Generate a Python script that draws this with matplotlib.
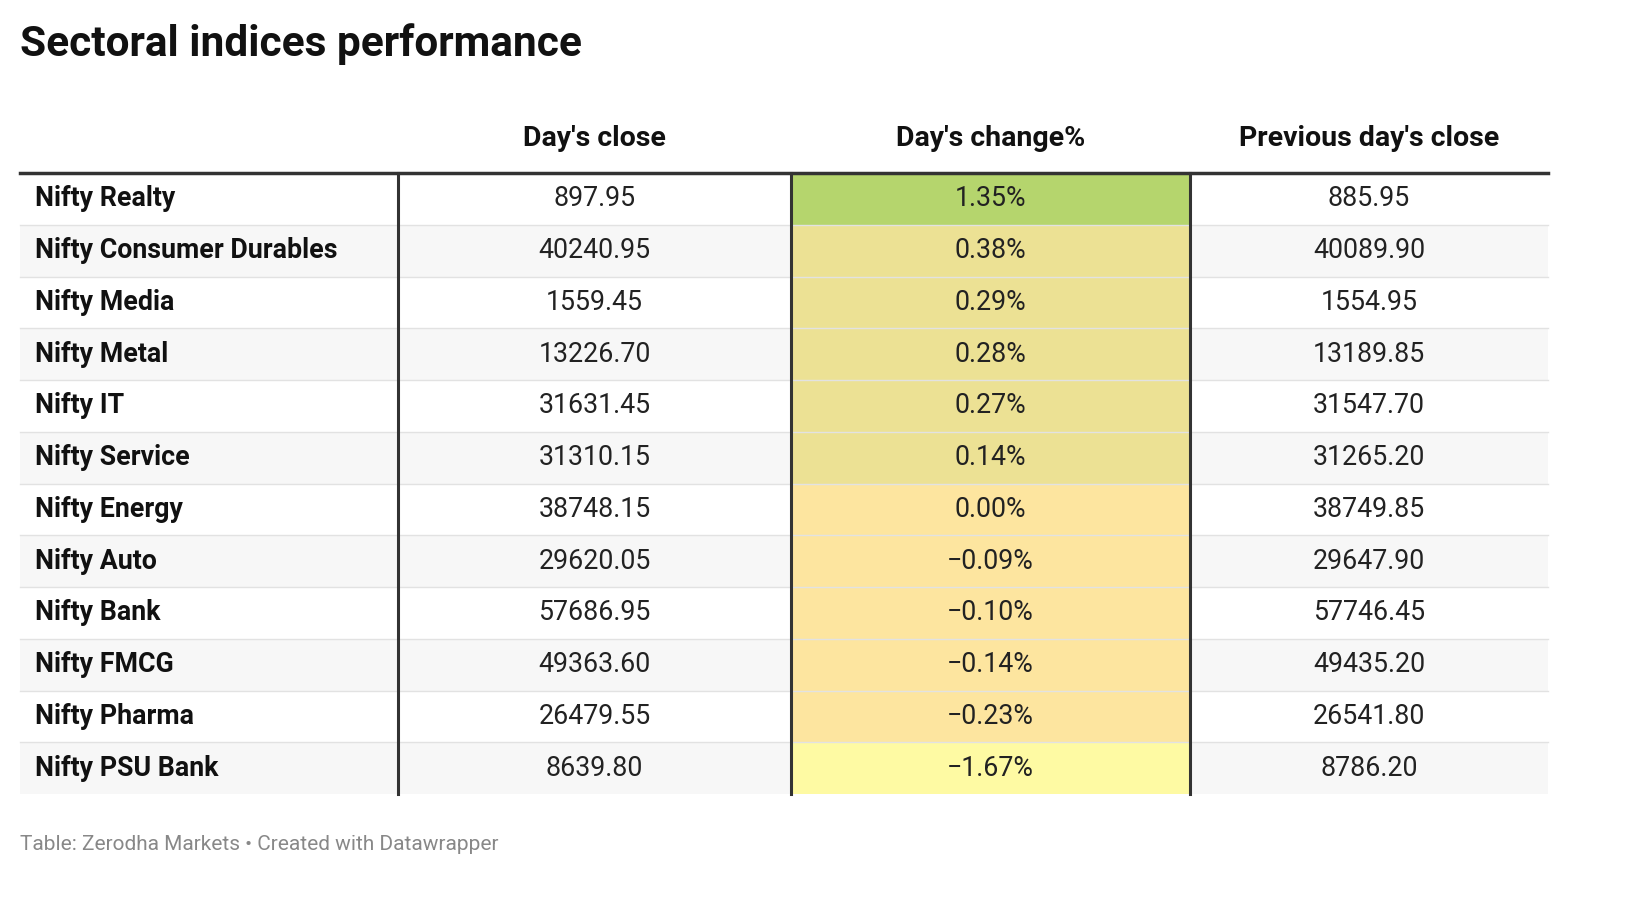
import matplotlib.pyplot as plt
from matplotlib.patches import Rectangle

sectors = ["Nifty Realty", "Nifty Consumer Durables", "Nifty Media", "Nifty Metal",
           "Nifty IT", "Nifty Service", "Nifty Energy", "Nifty Auto", "Nifty Bank",
           "Nifty FMCG", "Nifty Pharma", "Nifty PSU Bank"]
day_close = ["897.95", "40240.95", "1559.45", "13226.70", "31631.45", "31310.15",
             "38748.15", "29620.05", "57686.95", "49363.60", "26479.55", "8639.80"]
change_pct = [1.35, 0.38, 0.29, 0.28, 0.27, 0.14, 0.00, -0.09, -0.10, -0.14, -0.23, -1.67]
prev_close = ["885.95", "40089.90", "1554.95", "13189.85", "31547.70", "31265.20",
              "38749.85", "29647.90", "57746.45", "49435.20", "26541.80", "8786.20"]
headers = ["Day's close", "Day's change%", "Previous day's close"]


def change_color(v):
    if v > 1:
        return "#b5d56d"
    if v > 0.1:
        return "#ece194"
    if v > -1:
        return "#fde59f"
    return "#fefaa3"


plt.rcParams['font.family'] = ['Roboto', 'DejaVu Sans']
fig = plt.figure(figsize=(16.36, 9.14), dpi=100)
ax = fig.add_axes([0, 0, 1, 1])
ax.set_xlim(0, 1636)
ax.set_ylim(914, 0)
ax.axis('off')

ax.text(20, 44, "Sectoral indices performance", fontsize=30.5, fontweight='bold',
        va='center', ha='left', color='#111')

left, right = 20, 1548
cols = [20, 398, 791, 1190, 1548]
centers = [(cols[i] + cols[i + 1]) / 2 for i in range(1, 4)]
for c, h in zip(centers, headers):
    ax.text(c, 138, h, fontsize=20.5, fontweight='bold', ha='center', va='center', color='#111')

top = 173
rh = 51.75
for i, name in enumerate(sectors):
    y0 = top + i * rh
    if i % 2 == 1:
        ax.add_patch(Rectangle((left, y0), right - left, rh, color='#f7f7f7', lw=0))
    ax.add_patch(Rectangle((cols[2], y0), cols[3] - cols[2], rh,
                           color=change_color(change_pct[i]), lw=0))
    if i > 0:
        ax.plot([left, right], [y0, y0], color='#e2e2e2', lw=1)
    yc = y0 + rh / 2
    ax.text(35, yc, name, fontsize=19.3, fontweight='bold', va='center', ha='left', color='#111')
    ax.text(centers[0], yc, day_close[i], fontsize=19.3, va='center', ha='center', color='#222')
    ax.text(centers[1], yc, f"{change_pct[i]:.2f}%".replace('-', '\u2212'),
            fontsize=19.3, va='center', ha='center', color='#222')
    ax.text(centers[2], yc, prev_close[i], fontsize=19.3, va='center', ha='center', color='#222')

bottom = top + len(sectors) * rh
ax.plot([left, right], [top, top], color='#333', lw=2.5)
for x in cols[1:4]:
    ax.plot([x, x], [top, bottom], color='#333', lw=2.2)

ax.text(20, 844, "Table: Zerodha Markets \u2022 Created with Datawrapper", fontsize=15,
        color='#888', va='center', ha='left')

fig.savefig("out.png", dpi=100, facecolor='white')
